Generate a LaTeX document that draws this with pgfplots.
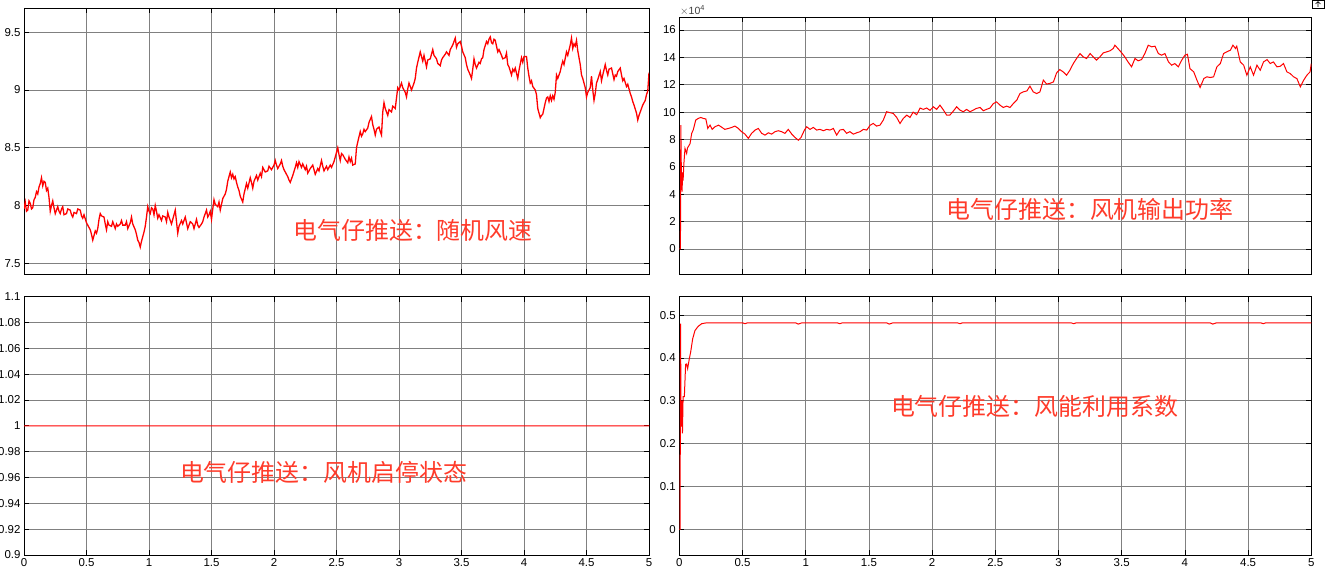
\documentclass[border=0pt]{standalone}
\usepackage{fontspec}
\setmainfont{Liberation Sans}
\newfontfamily\cjk{Noto Sans CJK SC}
\usepackage{pgfplots}
\pgfplotsset{compat=1.18}
\definecolor{gridc}{RGB}{128,128,128}
\definecolor{wm}{RGB}{255,59,42}
\pgfplotsset{
  myax/.style={
    scale only axis,
    anchor=north west,
    xmin=0, xmax=5,
    xtick={0,0.5,1,1.5,2,2.5,3,3.5,4,4.5,5},
    grid=major,
    major grid style={draw=gridc, line width=0.8bp},
    axis line style={black, line width=0.9bp},
    tick style={black, line width=0.8bp},
    major tick length=5bp,
    tick align=inside,
    ticklabel style={font=\fontsize{11.5}{13}\selectfont},
    /pgf/number format/assume math mode=true,
    scaled ticks=false,
    clip=true,
  }
}
\begin{document}
\begin{tikzpicture}
\path[use as bounding box] (0bp,0bp) rectangle (1325bp,575bp);
% ---------------- top left: wind speed
\begin{axis}[myax, at={(24bp,567bp)}, width=625bp, height=266bp,
  ymin=7.407, ymax=9.71, ytick={7.5,8,8.5,9,9.5}, xticklabels={}]
\addplot[red, line width=1.3bp] coordinates {
(0.00,7.97)(0.01,8.03)(0.02,7.95)(0.03,7.96)(0.04,8.04)(0.05,8.02)(0.06,7.97)(0.07,7.98)(0.08,8.05)(0.09,8.07)(0.10,8.12)(0.11,8.10)(0.12,8.16)
(0.13,8.19)(0.14,8.24)(0.15,8.17)(0.16,8.21)(0.17,8.20)(0.18,8.13)(0.19,8.15)(0.20,8.07)(0.21,7.95)(0.22,8.00)(0.23,8.04)(0.24,7.98)(0.25,7.93)
(0.26,7.96)(0.27,7.99)(0.28,7.95)(0.29,7.93)(0.30,7.97)(0.31,7.99)(0.32,7.92)(0.34,7.93)(0.35,7.97)(0.37,7.96)(0.38,7.92)(0.39,7.90)(0.40,7.94)
(0.42,7.93)(0.43,7.97)(0.45,7.96)(0.46,7.91)(0.47,7.89)(0.48,7.92)(0.50,7.85)(0.51,7.83)(0.53,7.79)(0.54,7.75)(0.55,7.70)(0.56,7.74)(0.57,7.78)
(0.58,7.76)(0.59,7.80)(0.60,7.88)(0.61,7.93)(0.62,7.91)(0.64,7.90)(0.65,7.84)(0.66,7.79)(0.67,7.86)(0.68,7.83)(0.70,7.82)(0.71,7.86)(0.73,7.80)
(0.74,7.84)(0.75,7.82)(0.77,7.84)(0.78,7.87)(0.79,7.83)(0.81,7.83)(0.82,7.86)(0.83,7.80)(0.85,7.85)(0.86,7.90)(0.87,7.84)(0.89,7.79)(0.90,7.75)
(0.91,7.70)(0.92,7.68)(0.93,7.64)(0.94,7.69)(0.95,7.73)(0.96,7.77)(0.97,7.82)(0.98,7.90)(0.99,7.99)(1.00,7.95)(1.01,7.93)(1.02,7.98)(1.03,7.97)
(1.04,7.92)(1.05,8.00)(1.06,7.95)(1.07,7.89)(1.08,7.92)(1.10,7.87)(1.11,7.91)(1.13,7.90)(1.14,7.86)(1.15,7.94)(1.16,7.90)(1.18,7.84)(1.19,7.88)
(1.21,7.96)(1.22,7.86)(1.23,7.76)(1.24,7.82)(1.26,7.87)(1.27,7.84)(1.29,7.90)(1.30,7.85)(1.31,7.80)(1.33,7.86)(1.35,7.84)(1.36,7.80)(1.38,7.88)
(1.39,7.83)(1.40,7.81)(1.42,7.84)(1.43,7.86)(1.44,7.90)(1.46,7.96)(1.47,7.90)(1.48,7.92)(1.49,7.95)(1.50,7.88)(1.51,7.97)(1.52,8.05)(1.53,8.01)
(1.55,7.99)(1.56,8.03)(1.57,7.96)(1.59,8.06)(1.61,8.10)(1.62,8.14)(1.63,8.21)(1.65,8.29)(1.66,8.24)(1.67,8.27)(1.68,8.23)(1.69,8.25)(1.70,8.20)
(1.71,8.16)(1.72,8.13)(1.73,8.08)(1.75,8.03)(1.76,8.10)(1.78,8.19)(1.79,8.15)(1.81,8.24)(1.82,8.20)(1.83,8.15)(1.84,8.21)(1.86,8.26)(1.87,8.22)
(1.89,8.28)(1.90,8.25)(1.91,8.33)(1.93,8.29)(1.95,8.30)(1.96,8.34)(1.98,8.31)(2.00,8.35)(2.01,8.39)(2.02,8.35)(2.03,8.32)(2.05,8.36)(2.06,8.39)
(2.07,8.34)(2.08,8.31)(2.10,8.27)(2.11,8.25)(2.12,8.22)(2.13,8.20)(2.14,8.23)(2.15,8.26)(2.17,8.33)(2.18,8.37)(2.19,8.33)(2.20,8.38)(2.22,8.33)
(2.23,8.36)(2.25,8.31)(2.26,8.34)(2.27,8.28)(2.29,8.32)(2.31,8.35)(2.32,8.31)(2.33,8.27)(2.35,8.32)(2.36,8.30)(2.38,8.39)(2.39,8.34)(2.40,8.30)
(2.42,8.34)(2.43,8.31)(2.45,8.35)(2.46,8.33)(2.48,8.38)(2.49,8.42)(2.51,8.50)(2.52,8.44)(2.53,8.39)(2.54,8.45)(2.55,8.44)(2.57,8.40)(2.59,8.37)
(2.60,8.42)(2.61,8.38)(2.62,8.41)(2.63,8.35)(2.65,8.36)(2.66,8.50)(2.67,8.55)(2.69,8.64)(2.70,8.60)(2.71,8.62)(2.72,8.66)(2.73,8.64)(2.75,8.67)
(2.76,8.72)(2.78,8.77)(2.79,8.70)(2.80,8.66)(2.81,8.61)(2.82,8.66)(2.84,8.68)(2.85,8.64)(2.86,8.61)(2.87,8.81)(2.88,8.89)(2.89,8.84)(2.91,8.78)
(2.92,8.83)(2.94,8.81)(2.95,8.86)(2.97,8.84)(2.98,8.93)(2.99,9.02)(3.00,9.00)(3.02,9.06)(3.03,9.02)(3.05,8.98)(3.06,8.94)(3.07,9.01)(3.08,9.06)
(3.09,9.03)(3.10,9.00)(3.12,9.06)(3.13,9.10)(3.14,9.19)(3.15,9.24)(3.17,9.33)(3.18,9.29)(3.19,9.25)(3.20,9.30)(3.22,9.20)(3.23,9.26)(3.25,9.27)
(3.26,9.31)(3.27,9.35)(3.28,9.30)(3.30,9.27)(3.31,9.23)(3.33,9.21)(3.34,9.26)(3.35,9.28)(3.37,9.31)(3.38,9.33)(3.40,9.30)(3.41,9.35)(3.42,9.37)
(3.43,9.39)(3.44,9.42)(3.45,9.45)(3.46,9.37)(3.47,9.40)(3.49,9.42)(3.50,9.38)(3.51,9.33)(3.53,9.28)(3.54,9.22)(3.55,9.18)(3.57,9.13)(3.58,9.10)
(3.59,9.18)(3.60,9.27)(3.61,9.22)(3.62,9.19)(3.64,9.24)(3.65,9.23)(3.66,9.27)(3.67,9.28)(3.68,9.35)(3.70,9.42)(3.71,9.40)(3.72,9.44)(3.73,9.46)
(3.74,9.41)(3.75,9.40)(3.76,9.44)(3.77,9.43)(3.78,9.38)(3.79,9.33)(3.80,9.35)(3.82,9.30)(3.83,9.27)(3.85,9.28)(3.86,9.32)(3.87,9.22)(3.88,9.20)
(3.90,9.13)(3.91,9.18)(3.92,9.16)(3.93,9.19)(3.95,9.10)(3.96,9.17)(3.98,9.28)(3.99,9.24)(4.00,9.29)(4.02,9.29)(4.03,9.19)(4.04,9.12)(4.05,9.06)
(4.06,9.08)(4.07,9.03)(4.09,9.00)(4.10,8.96)(4.11,8.84)(4.12,8.80)(4.13,8.76)(4.14,8.78)(4.15,8.79)(4.16,8.84)(4.17,8.89)(4.18,8.93)(4.19,8.94)
(4.20,8.90)(4.21,8.95)(4.22,8.91)(4.23,8.95)(4.24,8.92)(4.25,8.98)(4.26,9.13)(4.27,9.10)(4.29,9.16)(4.30,9.21)(4.31,9.25)(4.32,9.22)(4.34,9.33)
(4.35,9.30)(4.37,9.39)(4.38,9.45)(4.39,9.36)(4.40,9.40)(4.41,9.38)(4.42,9.43)(4.43,9.34)(4.44,9.28)(4.45,9.22)(4.46,9.13)(4.47,9.10)(4.48,9.06)
(4.49,9.02)(4.50,8.94)(4.51,8.98)(4.53,9.02)(4.54,9.12)(4.55,9.00)(4.56,8.91)(4.57,8.97)(4.58,9.06)(4.59,9.09)(4.61,9.16)(4.62,9.08)(4.63,9.13)
(4.65,9.22)(4.66,9.17)(4.67,9.13)(4.68,9.18)(4.70,9.19)(4.71,9.14)(4.72,9.09)(4.73,9.13)(4.74,9.12)(4.75,9.16)(4.77,9.19)(4.78,9.13)(4.79,9.08)
(4.80,9.10)(4.82,9.03)(4.83,9.05)(4.85,8.97)(4.86,8.94)(4.87,8.90)(4.88,8.87)(4.90,8.80)(4.91,8.74)(4.92,8.78)(4.94,8.84)(4.95,8.87)(4.97,8.91)
(4.98,8.96)(4.99,8.99)(5.00,9.15)
};
\end{axis}
% ---------------- top right: power
\begin{axis}[myax, at={(679.3bp,557.7bp)}, width=632bp, height=257bp,
  ymin=-1.85, ymax=16.93, ytick={0,2,4,6,8,10,12,14,16}, xticklabels={}]
\addplot[red, line width=1bp] coordinates {
(0,0)(0.009,0)(0.012,9.05)(0.017,5.0)(0.022,4.2)(0.026,5.6)(0.03,5.0)(0.036,6.2)(0.045,7.35)(0.058,6.98)(0.065,7.4)(0.071,7.47)(0.085,7.7)
(0.098,8.45)(0.11,8.69)(0.13,9.42)(0.15,9.54)(0.17,9.61)(0.19,9.54)(0.21,9.5)(0.225,8.81)(0.243,9.05)(0.26,8.74)(0.282,8.93)(0.31,9.05)
(0.335,8.9)(0.36,8.74)(0.39,8.81)(0.414,8.88)(0.44,8.98)(0.467,8.81)(0.493,8.57)(0.52,8.39)(0.546,8.08)(0.572,8.45)(0.60,8.69)(0.625,8.81)
(0.652,8.45)(0.678,8.32)(0.705,8.49)(0.73,8.39)(0.757,8.57)(0.783,8.64)(0.81,8.57)(0.836,8.45)(0.862,8.74)(0.89,8.39)(0.915,8.15)(0.942,7.95)
(0.963,8.15)(0.99,8.69)(1.008,8.93)(1.034,8.74)(1.06,8.88)(1.087,8.69)(1.113,8.74)(1.14,8.64)(1.166,8.74)(1.192,8.69)(1.219,8.81)(1.245,8.32)
(1.27,8.69)(1.298,8.74)(1.324,8.45)(1.35,8.57)(1.377,8.39)(1.403,8.49)(1.43,8.57)(1.456,8.74)(1.483,8.69)(1.51,9.05)(1.535,9.17)(1.56,8.98)
(1.588,9.05)(1.614,9.42)(1.64,10.03)(1.667,9.96)(1.693,9.9)(1.72,9.61)(1.746,9.17)(1.772,9.54)(1.8,9.78)(1.825,9.61)(1.85,10.0)(1.878,9.81)
(1.905,10.3)(1.93,10.2)(1.957,10.3)(1.983,10.13)(2.01,10.39)(2.036,10.2)(2.062,10.51)(2.09,10.15)(2.115,9.78)(2.14,9.78)(2.17,10.1)(2.194,10.39)
(2.22,10.15)(2.247,10.03)(2.273,10.2)(2.3,10.03)(2.326,10.15)(2.35,10.27)(2.38,10.34)(2.405,10.1)(2.43,10.2)(2.458,10.3)(2.485,10.63)(2.51,10.75)
(2.537,10.51)(2.563,10.34)(2.59,10.44)(2.616,10.34)(2.643,10.63)(2.67,10.88)(2.695,11.36)(2.72,11.48)(2.75,11.55)(2.774,11.9)(2.8,11.48)(2.827,11.36)
(2.853,11.48)(2.88,12.34)(2.906,12.05)(2.932,12.1)(2.96,12.21)(2.985,12.87)(3.01,13.11)(3.037,12.94)(3.064,12.7)(3.09,13.06)(3.117,13.55)(3.143,13.92)
(3.17,14.28)(3.196,14.04)(3.222,13.92)(3.25,14.28)(3.275,14.04)(3.3,13.8)(3.328,14.04)(3.354,14.33)(3.38,14.4)(3.407,14.48)(3.433,14.65)(3.446,14.89)
(3.47,14.65)(3.5,14.33)(3.525,14.03)(3.55,13.67)(3.578,13.31)(3.605,13.92)(3.63,13.75)(3.657,13.84)(3.683,14.28)(3.71,14.89)(3.737,14.77)(3.763,14.82)
(3.79,14.28)(3.816,14.16)(3.842,14.28)(3.87,13.67)(3.895,13.43)(3.92,13.55)(3.948,13.31)(3.975,13.8)(4.0,14.16)(4.02,14.23)(4.04,13.18)(4.07,12.94)
(4.095,12.34)(4.12,11.8)(4.15,12.46)(4.174,12.58)(4.2,12.53)(4.227,12.58)(4.253,13.31)(4.28,13.55)(4.306,14.28)(4.33,14.4)(4.36,14.53)(4.38,14.89)
(4.4,14.65)(4.41,14.82)(4.438,13.67)(4.465,13.43)(4.49,12.7)(4.517,13.31)(4.543,12.7)(4.57,13.43)(4.596,13.06)(4.622,13.67)(4.65,13.84)(4.675,13.55)
(4.7,13.67)(4.728,13.31)(4.754,13.35)(4.78,13.55)(4.807,12.94)(4.833,12.82)(4.86,12.58)(4.886,12.45)(4.913,11.85)(4.94,12.34)(4.965,12.7)(4.99,12.94)
(5.0,13.55)
};
\end{axis}
% ---------------- bottom left: status
\begin{axis}[myax, at={(24bp,278.3bp)}, width=625bp, height=258.3bp,
  ymin=0.9, ymax=1.1, ytick={0.9,0.92,0.94,0.96,0.98,1.02,1.04,1.06,1.08,1.1},
  extra y ticks={1}, extra y tick style={grid=none}]
\addplot[red, line width=1.1bp] coordinates {(0,1)(2.5,1)(4.999,1)(5,1.0005)};
\end{axis}
% ---------------- bottom right: Cp
\begin{axis}[myax, at={(679.3bp,278.3bp)}, width=632bp, height=258.3bp,
  ymin=-0.06, ymax=0.543, ytick={0,0.1,0.2,0.3,0.4,0.5}]
\addplot[red, line width=1bp] coordinates {
(0,0)(0.006,0)(0.01,0.48)(0.013,0.28)(0.017,0.24)(0.021,0.30)(0.025,0.224)(0.03,0.31)(0.04,0.31)(0.05,0.385)(0.058,0.386)(0.066,0.375)
(0.079,0.398)(0.09,0.414)(0.106,0.445)(0.124,0.464)(0.15,0.474)(0.177,0.48)(0.216,0.482)(0.5,0.482)(0.52,0.480)(0.54,0.482)(0.92,0.482)
(0.94,0.479)(0.97,0.482)(1.25,0.482)(1.27,0.480)(1.29,0.482)(1.64,0.482)(1.66,0.479)(1.69,0.482)(2.2,0.482)(2.22,0.480)(2.24,0.482)
(3.1,0.482)(3.12,0.480)(3.14,0.482)(4.2,0.482)(4.22,0.479)(4.25,0.482)(4.6,0.482)(4.62,0.480)(4.64,0.482)(5,0.482)
};
\end{axis}
% ---------------- annotations
\node[text=wm, font=\cjk\fontsize{24}{28}\selectfont] at (413bp,345bp) {电气仔推送：随机风速};
\node[text=wm, font=\cjk\fontsize{24}{28}\selectfont] at (1090bp,366bp) {电气仔推送：风机输出功率};
\node[text=wm, font=\cjk\fontsize{24}{28}\selectfont] at (323.5bp,102.5bp) {电气仔推送：风机启停状态};
\node[text=wm, font=\cjk\fontsize{24}{28}\selectfont] at (1034.5bp,169bp) {电气仔推送：风能利用系数};
\node[anchor=west, inner sep=0pt, text=black!75, font=\fontsize{10.5}{12}\selectfont] at (680bp,564.5bp) {$\times$10\textsuperscript{4}};
\draw[line width=0.6bp] (1312bp,567bp) rectangle (1324bp,575bp);
\draw[line width=0.6bp,-] (1318bp,568bp) -- (1318bp,573bp) (1315.5bp,571bp) -- (1318bp,573.5bp) -- (1320.5bp,571bp);
\end{tikzpicture}
\end{document}
